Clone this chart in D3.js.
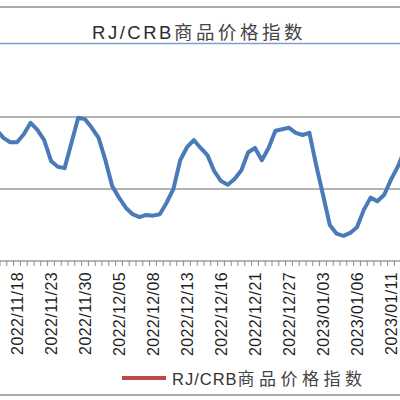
<!DOCTYPE html>
<html>
<head>
<meta charset="utf-8">
<script src="https://cdn.jsdelivr.net/npm/d3@7"></script>
<style>
  body { margin: 0; background: #fff; }
  svg { display: block; }
</style>
</head>
<body>
<div id="chart"></div>
<script>
// chart values, one per trading day
var values = [278.2, 277.1, 276.5, 276.5, 277.6, 279.2, 278.2, 276.8, 273.9, 273.1,
  272.9, 276.4, 279.9, 279.7, 278.5, 277.1, 274.0, 270.4, 268.8, 267.4,
  266.5, 266.1, 266.4, 266.3, 266.5, 268.1, 270.0, 274.0, 275.8, 276.8,
  275.7, 274.7, 272.5, 271.1, 270.6, 271.4, 272.6, 275.1, 275.7, 274.0,
  275.7, 278.1, 278.3, 278.5, 277.8, 277.5, 277.8, 273.3, 269.2, 265.0,
  263.8, 263.5, 263.9, 264.7, 267.1, 268.8, 268.3, 269.2, 271.3, 273.1, 275.4];
// labels shown every 5th category
var tickLabels = ["2022/11/18", "2022/11/23", "2022/11/30", "2022/12/05", "2022/12/08",
  "2022/12/13", "2022/12/16", "2022/12/21", "2022/12/27", "2023/01/03", "2023/01/06", "2023/01/11"];
var firstLabel = 3;
var labelEvery = 5;
var gridValues = [270, 280];
var seriesCode = "RJ/CRB";
var seriesText = "商品价格指数";

var width = 400, height = 400;
var step = 6.8;

var svg = d3.select("#chart").append("svg")
  .attr("width", width)
  .attr("height", height);

// the picture is a crop: first point sits just off the left edge
var x = d3.scalePoint()
  .domain(d3.range(values.length))
  .range([-step, -step + values.length * step])
  .padding(0.5);

var y = d3.scaleLinear()
  .domain([260, 280])
  .range([261, 117]);

var font = "'Liberation Sans', 'Noto Sans CJK SC', sans-serif";

// frame lines of the source picture
svg.append("line")
  .attr("x1", 0).attr("x2", width)
  .attr("y1", 7).attr("y2", 7)
  .style("stroke", "#8c8c8c").style("stroke-width", 1.5);

var title = svg.append("text")
  .attr("x", 199).attr("y", 39)
  .attr("text-anchor", "middle")
  .style("font-family", font)
  .style("fill", "#2b2b2b");
title.append("tspan")
  .style("font-size", "18.5px")
  .style("letter-spacing", "2.5px")
  .text(seriesCode);
title.append("tspan")
  .style("font-size", "18.5px")
  .style("letter-spacing", "3.5px")
  .style("fill", "#444")
  .text(seriesText);

svg.append("line")
  .attr("x1", 0).attr("x2", width)
  .attr("y1", 43.5).attr("y2", 43.5)
  .style("stroke", "#7f9fca").style("stroke-width", 1.5);

// gridlines
svg.selectAll(".grid")
  .data(gridValues)
  .enter().append("line")
  .attr("class", "grid")
  .attr("x1", 0).attr("x2", width)
  .attr("y1", function(d) { return y(d); })
  .attr("y2", function(d) { return y(d); })
  .style("stroke", "#9a9a9a").style("stroke-width", 1.5);

// x axis with ticks between categories
var xAxis = svg.append("g").attr("transform", "translate(0," + y(260) + ")");
xAxis.append("line")
  .attr("x1", 0).attr("x2", width)
  .style("stroke", "#9a9a9a").style("stroke-width", 1.5);
xAxis.selectAll(".tick")
  .data(d3.range(values.length + 1))
  .enter().append("line")
  .attr("class", "tick")
  .attr("x1", function(d) { return x(0) - x.step() / 2 + d * x.step(); })
  .attr("x2", function(d) { return x(0) - x.step() / 2 + d * x.step(); })
  .attr("y1", 0).attr("y2", 5)
  .style("stroke", "#8a8a8a").style("stroke-width", 1);

xAxis.selectAll(".lbl")
  .data(tickLabels)
  .enter().append("text")
  .attr("class", "lbl")
  .attr("transform", function(d, i) {
    return "translate(" + (x(firstLabel + i * labelEvery) + 5.5) + ",11) rotate(-90)";
  })
  .attr("text-anchor", "end")
  .style("font-family", "'Liberation Sans', sans-serif")
  .style("font-size", "16px")
  .style("letter-spacing", "0.4px")
  .style("fill", "#1f1f1f")
  .text(function(d) { return d; });

// the series
var line = d3.line()
  .x(function(d, i) { return x(i); })
  .y(function(d) { return y(d); });

svg.append("path")
  .datum(values)
  .attr("d", line)
  .style("fill", "none")
  .style("stroke", "#4a7ab8")
  .style("stroke-width", 4)
  .style("stroke-linejoin", "round");

// legend
var legend = svg.append("g").attr("transform", "translate(122,378)");
legend.append("line")
  .attr("x1", 0).attr("x2", 44)
  .style("stroke", "#b94a48").style("stroke-width", 4);
var legendText = legend.append("text")
  .attr("x", 50).attr("y", 6.5)
  .style("font-family", font)
  .style("fill", "#333");
legendText.append("tspan")
  .style("font-size", "16.5px")
  .style("letter-spacing", "1px")
  .text(seriesCode);
legendText.append("tspan")
  .style("font-size", "17px")
  .style("letter-spacing", "4.5px")
  .style("fill", "#444")
  .text(seriesText);

svg.append("line")
  .attr("x1", 0).attr("x2", width)
  .attr("y1", 395).attr("y2", 395)
  .style("stroke", "#8c8c8c").style("stroke-width", 1.5);
</script>
</body>
</html>
